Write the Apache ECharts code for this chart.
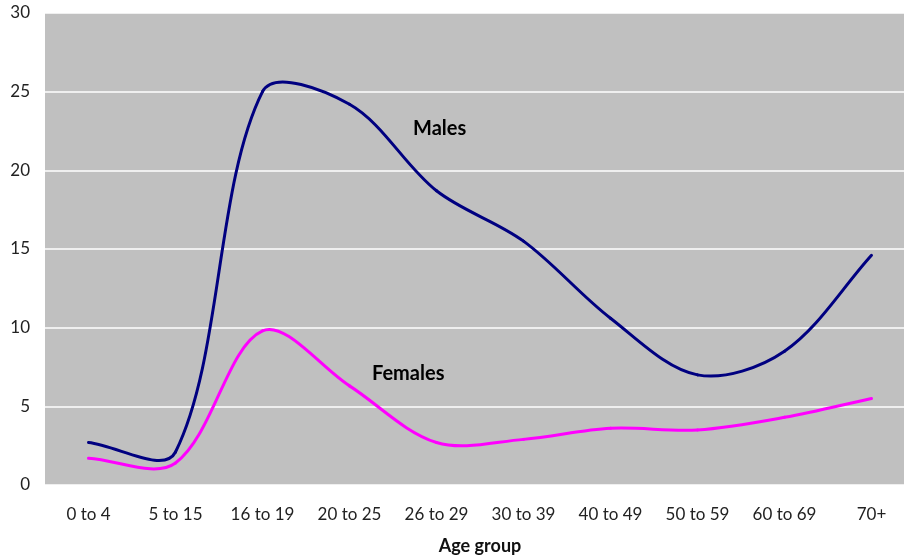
<!DOCTYPE html>
<html><head><meta charset="utf-8">
<script src="https://cdn.jsdelivr.net/npm/echarts@6/dist/echarts.min.js"></script>
<style>html,body{margin:0;padding:0;background:#fff}#c{width:904px;height:557px}</style>
</head><body><div id="c"></div>
<script>
const categories = ['0 to 4','5 to 15','16 to 19','20 to 25','26 to 29','30 to 39','40 to 49','50 to 59','60 to 69','70+'];
const males = [2.7, 2.1, 25.0, 24.2, 18.7, 15.5, 10.6, 7.0, 8.5, 14.6];
const females = [1.7, 1.4, 9.8, 6.3, 2.7, 2.9, 3.6, 3.5, 4.3, 5.5];
const yTicks = [0,5,10,15,20,25,30];
const FONT = 'Lato, "DejaVu Sans", sans-serif';

// Excel-like smoothed segment (distance-weighted Catmull-Rom), drawn through the axis scales
function smoothSeries(name, values, color) {
  return {
    name: name, type: 'custom', data: values.map((v, i) => [i, v]),
    encode: { x: 0, y: 1 },
    renderItem: function (params, api) {
      const i = params.dataIndex;
      const n = values.length;
      if (i >= n - 1) return null;
      const P = j => api.coord([Math.max(0, Math.min(n - 1, j)), values[Math.max(0, Math.min(n - 1, j))]]);
      const p0 = P(i - 1), p1 = P(i), p2 = P(i + 1), p3 = P(i + 2);
      const d = (a, b) => Math.hypot(a[0] - b[0], a[1] - b[1]);
      const s = 1 / 3;
      // control point leaving p1
      const dA0 = d(p0, p1), dA1 = d(p1, p2);
      const fA = s * dA1 / ((dA0 + dA1) || 1);
      const c1 = [p1[0] + (p2[0] - p0[0]) * fA, p1[1] + (p2[1] - p0[1]) * fA];
      // control point entering p2
      const dB0 = d(p1, p2), dB1 = d(p2, p3);
      const fB = s * dB0 / ((dB0 + dB1) || 1);
      const c2 = [p2[0] - (p3[0] - p1[0]) * fB, p2[1] - (p3[1] - p1[1]) * fB];
      return {
        type: 'path',
        shape: { pathData: 'M' + p1[0] + ' ' + p1[1] + ' C' + c1[0] + ' ' + c1[1] + ' ' + c2[0] + ' ' + c2[1] + ' ' + p2[0] + ' ' + p2[1] },
        style: { stroke: color, lineWidth: 3, fill: null, lineCap: 'round' }
      };
    }
  };
}

const chart = echarts.init(document.getElementById('c'));
chart.setOption({
  animation:false,
  grid:{left:45, top:13, width:870, height:472, show:true, backgroundColor:'#c0c0c0', borderWidth:0, outerBoundsMode:'none', containLabel:false},
  xAxis:{type:'category', data:categories, boundaryGap:true,
    name:'Age group', nameLocation:'middle', nameGap:52,
    nameTextStyle:{fontFamily:FONT, fontWeight:'bold', fontSize:18, color:'#111'},
    axisLine:{show:false}, axisTick:{show:false},
    axisLabel:{fontFamily:FONT, fontSize:17, color:'#222', margin:21}},
  yAxis:{type:'value', min:yTicks[0], max:yTicks[yTicks.length-1], interval:5,
    axisLine:{show:false}, axisTick:{show:false},
    axisLabel:{fontFamily:FONT, fontSize:17, color:'#222', margin:15},
    splitLine:{lineStyle:{color:'#ffffff', width:1.5}}},
  series:[
    smoothSeries('Males', males, '#000080'),
    smoothSeries('Females', females, '#ff00ff')
  ],
  graphic:[
    {type:'text', left:413, top:119, style:{text:'Males', font:'bold 20px '+FONT, fill:'#000'}},
    {type:'text', left:372, top:364, style:{text:'Females', font:'bold 20px '+FONT, fill:'#000'}}
  ]
});
</script></body></html>
